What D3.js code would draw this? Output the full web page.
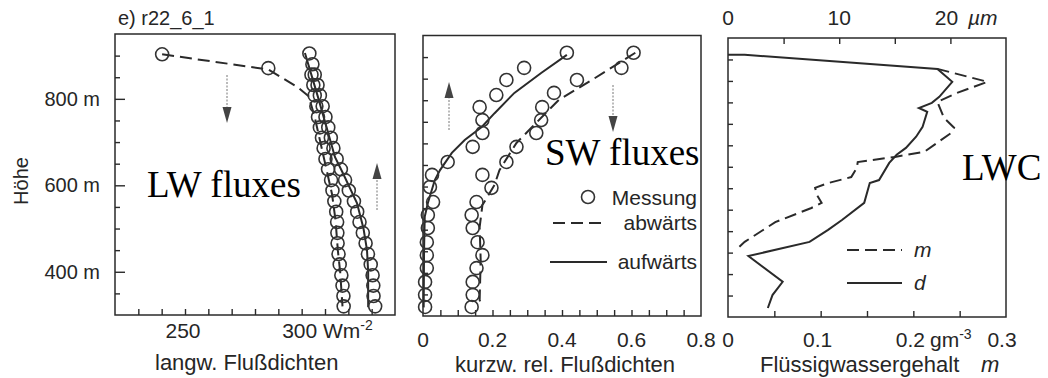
<!DOCTYPE html>
<html>
<head>
<meta charset="utf-8">
<script src="https://cdn.jsdelivr.net/npm/d3@7"></script>
<style>
  body { margin: 0; background: #fff; }
  svg { display: block; }
  text { font-family: "Liberation Sans", Arial, sans-serif; fill: #262626; }
</style>
</head>
<body>
<svg id="chart" width="1048" height="378"></svg>
<script>
// ---------- data ----------
// vertical axis (height in m)
const heightDomain = [300, 950];
const heightTicks = [350, 400, 450, 500, 550, 600, 650, 700, 750, 800, 850, 900];
const heightLabels = [400, 600, 800];

// long-wave fluxes (W m-2) : [flux, height]
const lwDomain = [220, 340];
const lwTicks = [230, 240, 250, 260, 270, 280, 290, 300, 310, 320, 330];
const lwTickLabels = [250, 300];
const lwUpMeasured = [
  [303.3, 905], [304.6, 880], [305.6, 856], [306.8, 832], [307.8, 808], [309.0, 783],
  [310.2, 758], [311.4, 734], [312.5, 710], [313.6, 686], [315.0, 661], [316.8, 637],
  [318.6, 612], [320.2, 588], [322.4, 563], [323.8, 539], [324.8, 515], [326.2, 490],
  [327.4, 466], [328.4, 441], [329.6, 417], [330.4, 392], [330.7, 368], [330.8, 344],
  [331.5, 320]
];
const lwDownMeasured = [
  [240.2, 903], [285.7, 871], [304.2, 856], [305.0, 832], [305.6, 808], [306.3, 783],
  [307.0, 758], [307.8, 734], [308.7, 710], [309.4, 686], [310.2, 661], [311.3, 637],
  [312.6, 612], [313.2, 588], [314.0, 563], [314.8, 539], [315.2, 515], [315.3, 490],
  [315.4, 466], [315.8, 441], [316.3, 417], [317.0, 392], [317.5, 368], [317.9, 344],
  [318.0, 320]
];
const lwUpModel = [
  [301.4, 906], [307.0, 804], [311.0, 728], [314.3, 665], [317.7, 628], [323.7, 559],
  [326.5, 500], [328.0, 450], [328.5, 400], [328.5, 318]
];
const lwDownModel = [
  [240.2, 903], [285.7, 868], [298.5, 826], [303.0, 806], [305.5, 760], [308.0, 700],
  [310.5, 640], [313.0, 580], [314.5, 520], [315.5, 450], [316.5, 400], [317.5, 320]
];

// short-wave relative fluxes : [flux, height]
const swDomain = [0, 0.8];
const swTicks = [0.05, 0.1, 0.15, 0.2, 0.25, 0.3, 0.35, 0.4, 0.45, 0.5, 0.55, 0.6, 0.65, 0.7, 0.75];
const swTickLabels = [0, 0.2, 0.4, 0.6, 0.8];
const swUpMeasured = [
  [0.414, 910], [0.291, 875], [0.240, 847], [0.211, 812], [0.163, 784], [0.171, 754],
  [0.171, 724], [0.143, 692], [0.071, 657], [0.026, 627], [0.020, 599], [0.029, 564],
  [0.014, 534], [0.014, 504], [0.011, 471], [0.011, 441], [0.011, 411], [0.006, 379],
  [0.006, 349], [0.006, 321]
];
const swDownMeasured = [
  [0.606, 910], [0.571, 875], [0.443, 847], [0.377, 817], [0.343, 784], [0.340, 754],
  [0.326, 724], [0.269, 692], [0.240, 657], [0.171, 627], [0.197, 597], [0.154, 564],
  [0.140, 534], [0.143, 504], [0.157, 471], [0.171, 441], [0.154, 411], [0.143, 379],
  [0.143, 349], [0.140, 321]
];
const swUpModel = [
  [0.414, 905], [0.340, 863], [0.263, 817], [0.206, 770], [0.169, 738], [0.120, 708],
  [0.083, 678], [0.049, 638], [0.034, 615], [0.014, 562], [0.005, 530], [0.003, 450],
  [0.002, 320]
];
const swDownModel = [
  [0.611, 910], [0.486, 847], [0.391, 801], [0.314, 738], [0.269, 701], [0.220, 638],
  [0.206, 604], [0.171, 557], [0.163, 506], [0.166, 430], [0.163, 337], [0.171, 321]
];

// liquid water content (g m-3) : [lwc, height]
const lwcDomain = [0, 0.3];
const lwcTicks = [0.05, 0.1, 0.15, 0.2, 0.25];
const radiusDomain = [0, 25];
const radiusTicks = [5, 10, 15, 20];
const radiusTickLabels = [0, 10, 20];
const lwcMeasured = [ // m
  [0.226, 878], [0.280, 848], [0.247, 822], [0.226, 801], [0.233, 764], [0.244, 741],
  [0.241, 729], [0.212, 685], [0.180, 673], [0.140, 661], [0.139, 647], [0.133, 626],
  [0.108, 612], [0.094, 601], [0.096, 584], [0.101, 566], [0.090, 554], [0.051, 521],
  [0.018, 475], [0.011, 461]
];
const lwcDerived = [ // d
  [0.000, 911], [0.018, 911], [0.226, 878], [0.242, 848], [0.228, 813], [0.220, 799],
  [0.206, 787], [0.215, 778], [0.210, 743], [0.203, 720], [0.192, 694], [0.182, 678],
  [0.174, 659], [0.163, 619], [0.153, 612], [0.147, 566], [0.123, 526], [0.108, 503],
  [0.088, 475], [0.022, 442], [0.059, 382], [0.048, 351], [0.043, 321]
];

// ---------- drawing ----------
const svg = d3.select("#chart");
const ink = "#2a2a2a";

const panels = {
  lw:  { x0: 115, x1: 395, yb: 315, yt: 34 },
  sw:  { x0: 423, x1: 701, yb: 316, yt: 35.5 },
  lwc: { x0: 728, x1: 1006, yb: 317, yt: 38 }
};

const yLw = d3.scaleLinear().domain(heightDomain).range([panels.lw.yb, panels.lw.yt]);
const ySw = d3.scaleLinear().domain(heightDomain).range([panels.sw.yb, panels.sw.yt]);
const yLwc = d3.scaleLinear().domain(heightDomain).range([panels.lwc.yb, panels.lwc.yt]);
const xLw = d3.scaleLinear().domain(lwDomain).range([panels.lw.x0, panels.lw.x1]);
const xSw = d3.scaleLinear().domain(swDomain).range([panels.sw.x0, panels.sw.x1]);
const xLwc = d3.scaleLinear().domain(lwcDomain).range([panels.lwc.x0, panels.lwc.x1]);
const xRad = d3.scaleLinear().domain(radiusDomain).range([panels.lwc.x0, panels.lwc.x1]);

function frame(p) {
  svg.append("rect")
    .attr("x", p.x0).attr("y", p.yt)
    .attr("width", p.x1 - p.x0).attr("height", p.yb - p.yt)
    .attr("fill", "none").attr("stroke", ink).attr("stroke-width", 1.5);
}

// inward-pointing ticks built from d3 axes
function leftTicks(p, y, majors) {
  const g = svg.append("g").attr("transform", `translate(${p.x0},0)`);
  g.call(d3.axisRight(y).tickValues(heightTicks).tickFormat("").tickSizeOuter(0)
    .tickSize(5));
  g.select(".domain").remove();
  g.selectAll(".tick line")
    .attr("x2", d => majors.includes(d) ? 10 : 5)
    .attr("stroke", ink).attr("stroke-width", 1.4);
}
function bottomTicks(p, x, vals, len) {
  const g = svg.append("g").attr("transform", `translate(0,${p.yb})`);
  g.call(d3.axisTop(x).tickValues(vals).tickFormat("").tickSizeOuter(0).tickSize(len));
  g.select(".domain").remove();
  g.selectAll(".tick line").attr("stroke", ink).attr("stroke-width", 1.4);
}
function topTicks(p, x, vals, len) {
  const g = svg.append("g").attr("transform", `translate(0,${p.yt})`);
  g.call(d3.axisBottom(x).tickValues(vals).tickFormat("").tickSizeOuter(0).tickSize(len));
  g.select(".domain").remove();
  g.selectAll(".tick line").attr("stroke", ink).attr("stroke-width", 1.4);
}

const line = (x, y) => d3.line().x(d => x(d[0])).y(d => y(d[1]));

function drawCircles(data, x, y) {
  svg.append("g").selectAll("circle").data(data).join("circle")
    .attr("cx", d => x(d[0])).attr("cy", d => y(d[1])).attr("r", 6.5)
    .attr("fill", "none").attr("stroke", "#333").attr("stroke-width", 1.6);
}
function drawLine(data, x, y, dashed) {
  svg.append("path").datum(data)
    .attr("d", line(x, y))
    .attr("fill", "none").attr("stroke", ink).attr("stroke-width", 2)
    .attr("stroke-dasharray", dashed ? "12,6" : null);
}
function arrow(x, yTail, yTip) {
  const dir = yTip > yTail ? 1 : -1;
  const headLen = 16, half = 4.5;
  svg.append("line")
    .attr("x1", x).attr("x2", x).attr("y1", yTail).attr("y2", yTip - dir * headLen)
    .attr("stroke", "#777").attr("stroke-width", 1).attr("stroke-dasharray", "2,1.5");
  svg.append("path")
    .attr("d", `M${x - half},${yTip - dir * headLen}L${x + half},${yTip - dir * headLen}L${x},${yTip}Z`)
    .attr("fill", "#444");
}

// ---- panel frames and ticks ----
Object.values(panels).forEach(frame);
leftTicks(panels.lw, yLw, heightLabels);
leftTicks(panels.sw, ySw, []);
leftTicks(panels.lwc, yLwc, []);
bottomTicks(panels.lw, xLw, lwTicks, 6);
bottomTicks(panels.sw, xSw, swTicks, 6);
bottomTicks(panels.lwc, xLwc, lwcTicks, 6);
topTicks(panels.lwc, xRad, radiusTicks, 6);

// ---- labels ----
svg.append("text").attr("x", 118).attr("y", 25).attr("font-size", 20).text("e) r22_6_1");

svg.append("g").selectAll("text").data(heightLabels).join("text")
  .attr("x", 100).attr("y", d => yLw(d) + 7).attr("text-anchor", "end")
  .attr("font-size", 20).text(d => `${d} m`);
svg.append("text").attr("transform", "translate(28,181) rotate(-90)")
  .attr("text-anchor", "middle").attr("font-size", 20).text("Höhe");

// long-wave x labels
svg.append("g").selectAll("text").data(lwTickLabels).join("text")
  .attr("x", d => xLw(d) - 2).attr("y", 338).attr("text-anchor", "middle")
  .attr("font-size", 21).text(d => d);
const wm = svg.append("text").attr("x", 323).attr("y", 338).attr("font-size", 21);
wm.append("tspan").text("Wm");
wm.append("tspan").attr("dy", -8).attr("font-size", 14).text("-2");
svg.append("text").attr("x", 155).attr("y", 370).attr("font-size", 22).text("langw. Flußdichten");

// short-wave x labels
svg.append("g").selectAll("text").data(swTickLabels).join("text")
  .attr("x", d => xSw(d)).attr("y", 347).attr("text-anchor", "middle")
  .attr("font-size", 21).text(d => d === 0 ? "0" : d3.format(".1f")(d));
svg.append("text").attr("x", 455).attr("y", 372).attr("font-size", 22).text("kurzw. rel. Flußdichten");

// liquid water x labels
svg.append("text").attr("x", xLwc(0)).attr("y", 347).attr("text-anchor", "middle").attr("font-size", 21).text("0");
svg.append("text").attr("x", xLwc(0.1) - 3).attr("y", 347).attr("text-anchor", "middle").attr("font-size", 21).text("0.1");
svg.append("text").attr("x", xLwc(0.2) - 3).attr("y", 347).attr("text-anchor", "middle").attr("font-size", 21).text("0.2");
const gm = svg.append("text").attr("x", 930).attr("y", 347).attr("font-size", 21);
gm.append("tspan").text("gm");
gm.append("tspan").attr("dy", -8).attr("font-size", 14).text("-3");
svg.append("text").attr("x", xLwc(0.3) - 4).attr("y", 347).attr("text-anchor", "middle").attr("font-size", 21).text("0.3");
const fw = svg.append("text").attr("x", 760).attr("y", 372).attr("font-size", 22);
fw.append("tspan").text("Flüssigwassergehalt");
fw.append("tspan").attr("x", 981).attr("font-style", "italic").text("m");

// droplet radius top labels
svg.append("g").selectAll("text").data(radiusTickLabels).join("text")
  .attr("x", d => xRad(d) - (d === 20 ? 4 : 0)).attr("y", 25).attr("text-anchor", "middle")
  .attr("font-size", 21).text(d => d);
svg.append("text").attr("x", 968).attr("y", 25).attr("font-size", 21)
  .attr("font-style", "italic").text("µm");

// ---- long-wave panel ----
drawLine(lwDownModel, xLw, yLw, true);
drawLine(lwUpModel, xLw, yLw, false);
drawCircles(lwDownMeasured, xLw, yLw);
drawCircles(lwUpMeasured, xLw, yLw);
arrow(227, 75, 123);
arrow(377, 210, 163);

// ---- short-wave panel ----
drawLine(swDownModel, xSw, ySw, true);
drawLine(swUpModel, xSw, ySw, false);
drawCircles(swDownMeasured, xSw, ySw);
drawCircles(swUpMeasured, xSw, ySw);
arrow(449, 130, 82);
arrow(613, 85, 132);

// legend
svg.append("circle").attr("cx", 588).attr("cy", 197).attr("r", 6.5)
  .attr("fill", "none").attr("stroke", "#333").attr("stroke-width", 1.6);
svg.append("text").attr("x", 697).attr("y", 205).attr("text-anchor", "end").attr("font-size", 21).text("Messung");
svg.append("line").attr("x1", 553).attr("x2", 607).attr("y1", 223).attr("y2", 223)
  .attr("stroke", ink).attr("stroke-width", 2).attr("stroke-dasharray", "12,6");
svg.append("text").attr("x", 697).attr("y", 230).attr("text-anchor", "end").attr("font-size", 21).text("abwärts");
svg.append("line").attr("x1", 550).attr("x2", 607).attr("y1", 262).attr("y2", 262)
  .attr("stroke", ink).attr("stroke-width", 2);
svg.append("text").attr("x", 697).attr("y", 269).attr("text-anchor", "end").attr("font-size", 21).text("aufwärts");

// ---- liquid water panel ----
drawLine(lwcMeasured, xLwc, yLwc, true);
drawLine(lwcDerived, xLwc, yLwc, false);
svg.append("line").attr("x1", 847).attr("x2", 902).attr("y1", 250).attr("y2", 250)
  .attr("stroke", ink).attr("stroke-width", 2).attr("stroke-dasharray", "12,6");
svg.append("text").attr("x", 914).attr("y", 257).attr("font-size", 21).attr("font-style", "italic").text("m");
svg.append("line").attr("x1", 847).attr("x2", 902).attr("y1", 283).attr("y2", 283)
  .attr("stroke", ink).attr("stroke-width", 2);
svg.append("text").attr("x", 914).attr("y", 290).attr("font-size", 21).attr("font-style", "italic").text("d");

// ---- panel annotations ----
const serif = "'Liberation Serif', 'Times New Roman', serif";
svg.append("text").attr("x", 147).attr("y", 197).attr("font-size", 37)
  .style("font-family", serif).style("fill", "#000").text("LW fluxes");
svg.append("text").attr("x", 545).attr("y", 165).attr("font-size", 37)
  .style("font-family", serif).style("fill", "#000").text("SW fluxes");
svg.append("text").attr("x", 962).attr("y", 180).attr("font-size", 37)
  .style("font-family", serif).style("fill", "#000").text("LWC");
</script>
</body>
</html>
